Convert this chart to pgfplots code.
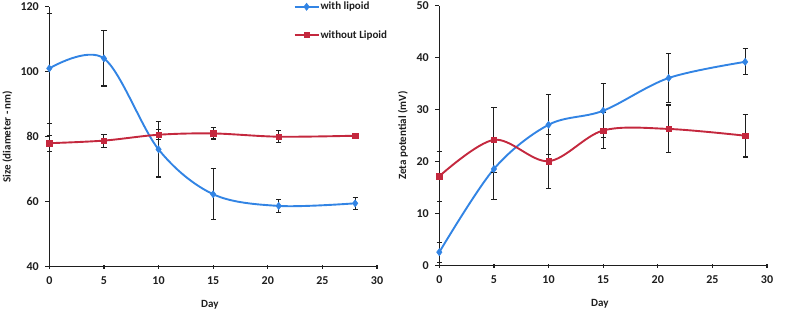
\documentclass[border=0pt]{standalone}
\usepackage{fontspec}
\setmainfont{Carlito}
\usepackage{pgfplots}
\pgfplotsset{compat=1.18}
\definecolor{cblue}{RGB}{50,132,228}
\definecolor{cred}{RGB}{196,40,62}
\definecolor{axc}{RGB}{30,30,30}
\pgfplotsset{
  mystyle/.style={
    scale only axis, width=327.7pt, height=260pt,
    axis lines=left, axis line style={-, line width=1.4pt, color=axc},
    xmin=0, xmax=30, xtick={0,5,...,30},
    tick style={line width=1.2pt, color=axc},
    major tick length=4pt,
    xtick align=center, ytick align=outside,
    /pgf/number format/assume math mode=true,
    ticklabel style={font=\bfseries\fontsize{12}{14}\selectfont, color=axc},
    xticklabel style={yshift=-4pt},
    yticklabel style={xshift=-3pt},
    label style={font=\bfseries\fontsize{11}{13}\selectfont, color=axc},
    xlabel={Day},
    xlabel style={at={(axis description cs:0.49,-0.147)}, anchor=center},
    clip=false,
    every axis plot/.append style={smooth, tension=0.55, line width=1.9pt},
    error bars/y dir=both, error bars/y explicit,
    error bars/error bar style={line width=1.1pt, color=axc, solid},
    error bars/error mark options={rotate=90, mark size=2.6pt, line width=1.1pt, color=axc},
  },
  blues/.style={color=cblue, mark=diamond*, mark size=3.6pt, mark options={solid, fill=cblue, line width=0.5pt}},
  reds/.style={color=cred, mark=square*, mark size=2.7pt, mark options={solid, fill=cred, line width=0.5pt}},
}
\begin{document}
\begin{tikzpicture}[x=1pt,y=1pt]
\path[use as bounding box] (0,0) rectangle (787,315);
\begin{axis}[mystyle, at={(49.3pt,48.3pt)}, anchor=origin,
  ymin=40, ymax=120, ytick={40,60,...,120},
  ylabel={Size  (diameter - nm)},
  ylabel style={at={(axis description cs:-0.128,0.5)}, anchor=center},
  legend style={at={(axis description cs:0.745,1.022)}, anchor=north west, draw=none, fill=none,
    font=\bfseries\fontsize{11}{13}\selectfont, row sep=17pt, inner sep=0pt,
    nodes={inner sep=1pt, text=axc}},
  legend cell align=left,
  legend image code/.code={\draw[mark repeat=2,mark phase=2, line width=1.9pt] plot coordinates {(0pt,0pt) (12pt,0pt) (24pt,0pt)};},
]
\addplot+[blues] coordinates {
 (0,101) +- (0,17)
 (5,104.1) +- (0,8.5)
 (10,76.1) +- (0,8.5)
 (15,62.3) +- (0,7.8)
 (21,58.7) +- (0,1.9)
 (28,59.5) +- (0,1.9)
};
\addlegendentry{with lipoid}
\addplot+[reds] coordinates {
 (0,78) +- (0,2.5)
 (5,78.8) +- (0,2)
 (10,80.6) +- (0,1.5)
 (15,81) +- (0,1.7)
 (21,80) +- (0,1.8)
 (28,80.3) +- (0,0.4)
};
\addlegendentry{without Lipoid}
\end{axis}
\begin{axis}[mystyle, at={(439.3pt,49.3pt)}, anchor=origin,
  ymin=0, ymax=50, ytick={0,10,...,50},
  ylabel={Zeta potential (mV)},
  ylabel style={at={(axis description cs:-0.111,0.5)}, anchor=center},
]
\addplot+[blues] coordinates {
 (0,2.6) +- (0,1.9)
 (5,18.6) +- (0,5.8)
 (10,27.1) +- (0,5.8)
 (15,29.8) +- (0,5.2)
 (21,36.1) +- (0,4.7)
 (28,39.2) +- (0,2.5)
};
\addplot+[reds] coordinates {
 (0,17.2) +- (0,4.8)
 (5,24.2) +- (0,6.3)
 (10,20.1) +- (0,5.2)
 (15,26.0) +- (0,3.5)
 (21,26.3) +- (0,4.6)
 (28,25.0) +- (0,4.1)
};
\end{axis}
\end{tikzpicture}
\end{document}
